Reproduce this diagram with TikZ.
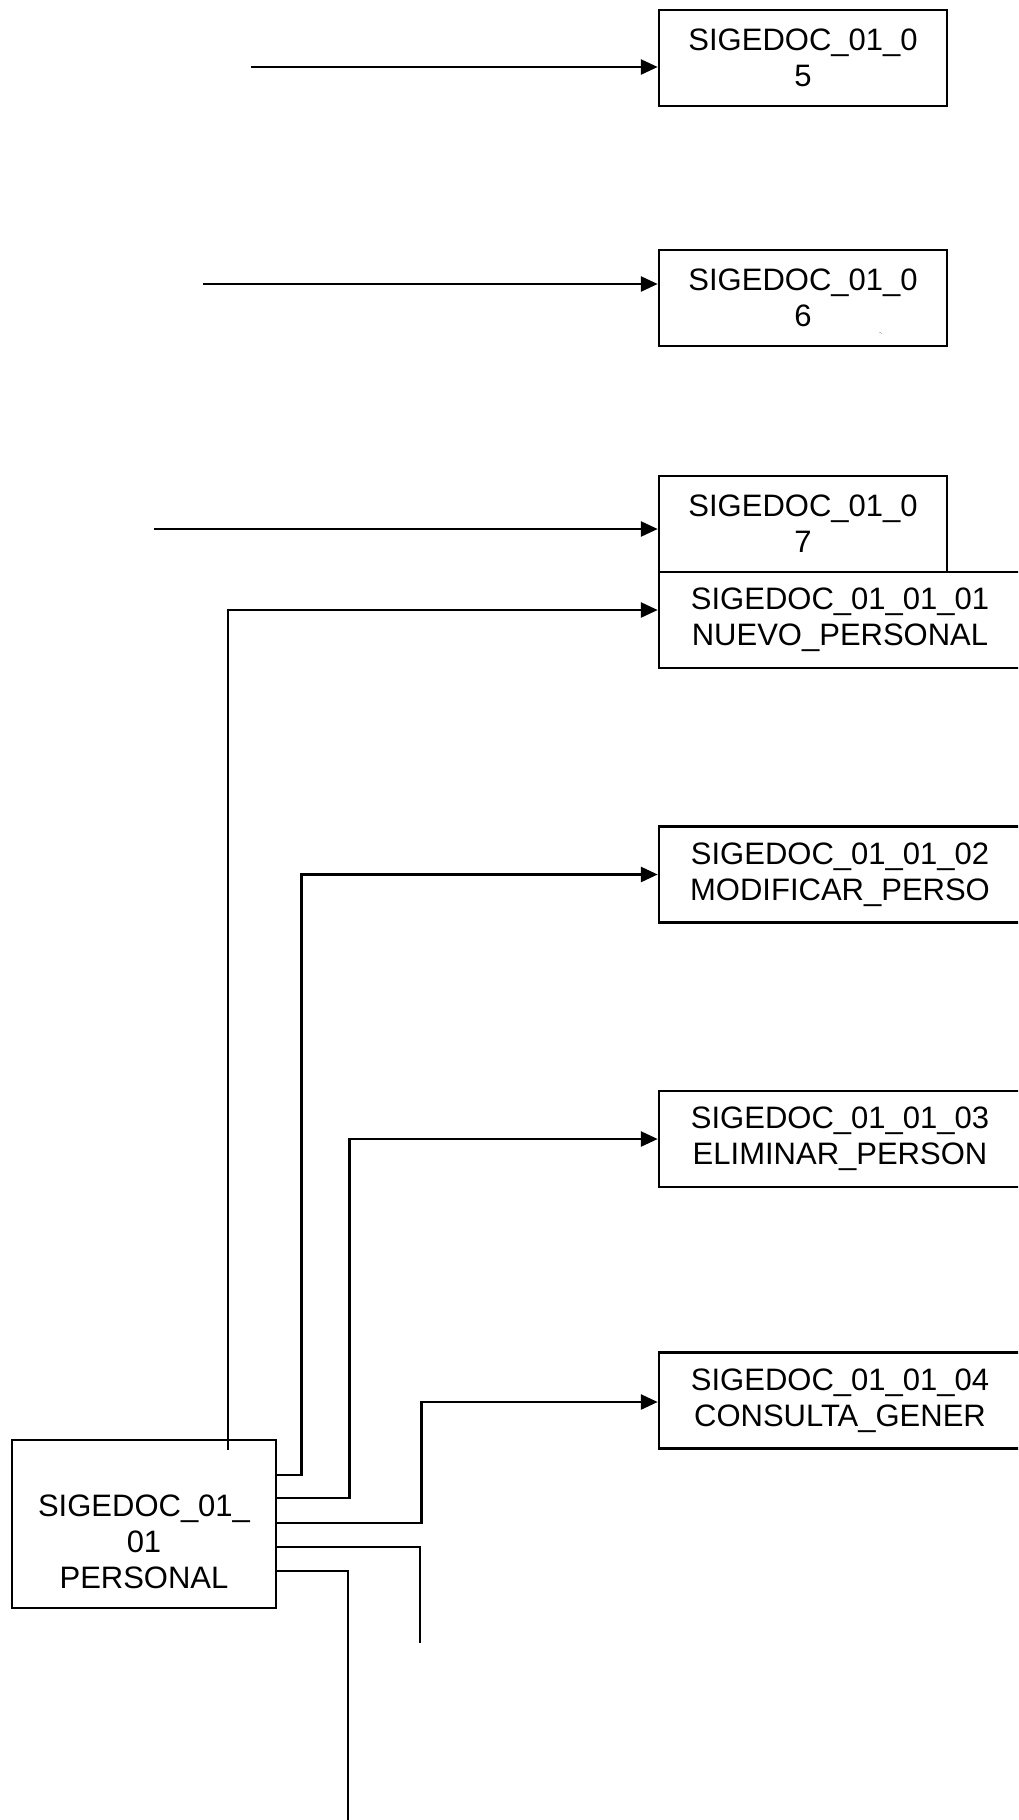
\documentclass[tikz,border=0pt]{standalone}
\usepackage{fontspec}
\setmainfont{Liberation Sans}
\usetikzlibrary{arrows.meta}
\usetikzlibrary{positioning}

\tikzset{
  modbox/.style={draw, rectangle, line width=2.5pt, minimum width=288pt, minimum height=96pt,
    inner sep=0pt, align=center, font=\fontsize{31}{36}\selectfont},
  subbox/.style={modbox, minimum width=362pt},
  flecha/.style={line width=2.8pt, -{Triangle[length=17pt,width=15pt]}},
  enlace/.style={line width=2.5pt},
}

\begin{document}
\begin{tikzpicture}[x=1pt,y=-1pt]
  \clip (0,0) rectangle (1018,1820);
  % modulos superiores
  \node[modbox] (b05) at (803,58) {SIGEDOC\_01\_0\\5};
  \node[modbox] (b06) at (803,298) {SIGEDOC\_01\_0\\6};
  \node[font=\fontsize{5}{5}\selectfont] (marca) at (881,334) {-.};
  \node[modbox] (b07) at (803,524) {SIGEDOC\_01\_0\\7};
  % submodulos de personal
  \node[subbox] (b0101) at (840,620) {SIGEDOC\_01\_01\_01\\NUEVO\_PERSONAL};
  \node[subbox] (b0102) at (840,874.5) {SIGEDOC\_01\_01\_02\\MODIFICAR\_PERSO};
  \node[subbox] (b0103) at (840,1139) {SIGEDOC\_01\_01\_03\\ELIMINAR\_PERSON};
  \node[subbox] (b0104) at (840,1400.5) {SIGEDOC\_01\_01\_04\\CONSULTA\_GENER};
  % modulo personal
  \node[modbox, minimum width=264pt, minimum height=168pt] (p) at (144,1524) {};
  \node[align=center, font=\fontsize{31}{36}\selectfont] (ptext) at (144,1542)
    {SIGEDOC\_01\_\\01\\PERSONAL};

  \coordinate (s05) at (251,67);
  \coordinate (s06) at (203,284);
  \coordinate (s07) at (154,529);
  \coordinate (finE) at (420,1643);
  \coordinate (finF) at (348,1830);

  \draw[flecha] (s05) -- (s05 -| b05.west);
  \draw[flecha] (s06) -- (s06 -| b06.west);
  \draw[flecha] (s07) -- (s07 -| b07.west);

  \draw[flecha] ([xshift=84pt,yshift=-11pt]p.north) |- ([yshift=10pt]b0101.west);
  \draw[flecha] ([yshift=49pt]p.east) -- ++(24,0) |- (b0102.west);
  \draw[flecha] ([yshift=26pt]p.east) -- ++(72,0) |- (b0103.west);
  \draw[flecha] ([yshift=1pt]p.east) -- ++(144,0) |- ([yshift=-1.5pt]b0104.west);
  \draw[enlace] ([yshift=-23pt]p.east) -| (finE);
  \draw[enlace] ([yshift=-47pt]p.east) -| (finF);
\end{tikzpicture}
\end{document}
